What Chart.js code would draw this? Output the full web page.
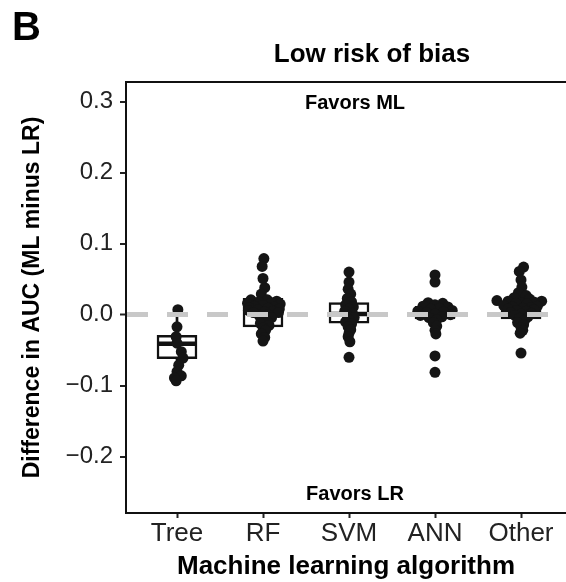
<!DOCTYPE html>
<html lang="en">
<head>
  <meta charset="UTF-8" />
  <title>Low risk of bias</title>
  <script src="https://cdn.jsdelivr.net/npm/chart.js"></script>
  <style>
    html, body {
      margin: 0;
      padding: 0;
      background: #fff;
    }

    #wrap {
      width: 566px;
      height: 582px;
      position: relative;
    }
  </style>
</head>
<body>
  <div id="wrap"><canvas id="grafico"></canvas></div>

  <script>
    const categories = ['Tree', 'RF', 'SVM', 'ANN', 'Other'];
    const yTicks = [-0.2, -0.1, 0, 0.1, 0.2, 0.3];
    const yTickLabels = ['\u22120.2', '\u22120.1', '0.0', '0.1', '0.2', '0.3'];

    // box stats per algorithm
    const boxQ1 = [-0.062, -0.017, -0.012, -0.006, -0.006];
    const boxMedian = [-0.041, 0.006, 0.001, 0.003, 0.006];
    const boxQ3 = [-0.029, 0.023, 0.017, 0.012, 0.019];
    const whiskerLow = [-0.093, -0.037, -0.038, -0.027, -0.026];
    const whiskerHigh = [0.007, 0.051, 0.046, 0.017, 0.049];

    // individual studies (AUC difference) + horizontal jitter in category units
    const treeVals = [0.007, -0.017, -0.031, -0.040, -0.052, -0.061, -0.071, -0.080, -0.086, -0.089, -0.093];
    const treeJitter = [0.01, 0.0, -0.01, 0.0, 0.05, 0.07, 0.02, 0.0, 0.05, -0.03, -0.01];

    const rfVals = [0.079, 0.068, 0.051, 0.038, 0.029, 0.021, 0.021, 0.019, 0.018, 0.017, 0.016, 0.015,
      0.013, 0.012, 0.011, 0.010, 0.009, 0.008, 0.007, 0.006, 0.005, 0.004, 0.003, 0.003,
      0.000, -0.002, -0.004, -0.006, -0.009, -0.012, -0.015, -0.018, -0.022, -0.027, -0.032, -0.037];
    const rfJitter = [0.01, -0.01, 0.0, 0.02, -0.02, -0.14, 0.05, 0.16, -0.05, 0.10, -0.18, 0.20,
      0.0, -0.10, 0.13, -0.16, 0.06, 0.19, -0.06, -0.17, 0.12, 0.02, -0.11, 0.18,
      0.06, -0.04, 0.10, 0.0, 0.05, -0.03, 0.07, 0.0, 0.03, -0.02, 0.02, 0.0];

    const svmVals = [0.060, 0.046, 0.036, 0.029, 0.023, 0.018, 0.014, 0.011, 0.008, 0.005, 0.002,
      -0.001, -0.004, -0.007, -0.010, -0.013, -0.017, -0.021, -0.026, -0.031, -0.038, -0.060];
    const svmJitter = [0.0, 0.0, -0.01, 0.02, -0.02, 0.03, -0.04, 0.05, 0.0, -0.05, 0.04,
      -0.02, 0.06, 0.0, -0.04, 0.03, -0.01, 0.02, 0.0, -0.01, 0.01, 0.0];

    const annVals = [0.056, 0.046, 0.017, 0.016, 0.014, 0.012, 0.011, 0.009, 0.008, 0.006, 0.005, 0.004,
      0.003, 0.001, 0.000, -0.001, -0.003, -0.004, -0.007, -0.011, -0.016, -0.022, -0.027, -0.058, -0.081];
    const annJitter = [0.0, 0.0, -0.08, 0.09, 0.0, -0.14, 0.15, 0.05, -0.05, 0.20, -0.20, 0.10,
      -0.10, 0.0, 0.18, -0.17, 0.08, -0.07, 0.02, -0.02, 0.02, 0.0, 0.01, 0.0, 0.0];

    const otherVals = [0.067, 0.061, 0.049, 0.039, 0.031, 0.027, 0.024, 0.022, 0.020, 0.019, 0.019, 0.018,
      0.017, 0.016, 0.015, 0.013, 0.012, 0.011, 0.010, 0.009, 0.008, 0.007, 0.006, 0.005,
      0.003, 0.002, 0.001, -0.001, -0.003, -0.005, -0.008, -0.011, -0.014, -0.018, -0.022, -0.026, -0.054];
    const otherJitter = [0.03, -0.02, 0.0, 0.01, -0.03, 0.06, -0.08, 0.10, -0.28, 0.24, -0.15, 0.15,
      0.0, -0.06, 0.07, -0.20, 0.19, -0.10, 0.11, 0.02, -0.15, 0.15, -0.05, 0.06,
      -0.12, 0.12, 0.0, -0.07, 0.08, -0.02, 0.04, -0.04, 0.03, 0.0, 0.02, -0.01, 0.0];

    const groups = [
      [treeVals, treeJitter],
      [rfVals, rfJitter],
      [svmVals, svmJitter],
      [annVals, annJitter],
      [otherVals, otherJitter]
    ];

    const FONT = "'Liberation Sans', Arial, Helvetica, sans-serif";
    Chart.defaults.font.family = FONT;

    const pontos = [];
    groups.forEach(([vals, jit], i) => {
      vals.forEach((v, k) => pontos.push({ x: i + 1 + jit[k], y: v }));
    });

    // texts + top frame line
    const decor = {
      id: 'decor',
      afterDraw(chart) {
        const { ctx, chartArea: a, scales: { x } } = chart;
        ctx.save();
        ctx.strokeStyle = '#111';
        ctx.lineWidth = 2;
        ctx.beginPath();
        ctx.moveTo(a.left - 1, a.top);
        ctx.lineTo(a.right, a.top);
        ctx.stroke();

        ctx.fillStyle = '#000';
        ctx.textBaseline = 'alphabetic';
        ctx.textAlign = 'left';
        ctx.font = 'bold 40px ' + FONT;
        ctx.fillText('B', 12, 40);

        ctx.textAlign = 'center';
        ctx.font = 'bold 26px ' + FONT;
        ctx.fillText('Low risk of bias', 372, 62);

        ctx.font = 'bold 20px ' + FONT;
        const cx = x.getPixelForValue(3) + 6;
        ctx.fillText('Favors ML', cx, a.top + 27);
        ctx.fillText('Favors LR', cx, a.bottom - 13);
        ctx.restore();
      }
    };

    new Chart(document.getElementById('grafico'), {
      type: 'scatter',
      data: {
        datasets: [
          {
            type: 'bar',
            label: 'whisker',
            data: categories.map((c, i) => ({ x: i + 1, y: [whiskerLow[i], whiskerHigh[i]] })),
            backgroundColor: '#111',
            borderWidth: 0,
            barThickness: 2,
            grouped: false,
            order: 4
          },
          {
            type: 'bar',
            label: 'box',
            data: categories.map((c, i) => ({ x: i + 1, y: [boxQ1[i], boxQ3[i]] })),
            backgroundColor: '#fff',
            borderColor: '#111',
            borderWidth: 2.5,
            borderSkipped: false,
            barThickness: 40,
            grouped: false,
            order: 3
          },
          {
            type: 'scatter',
            label: 'median',
            data: categories.map((c, i) => ({ x: i + 1, y: boxMedian[i] })),
            pointStyle: 'line',
            pointRadius: 19,
            borderColor: '#111',
            borderWidth: 4.5,
            order: 2
          },
          {
            type: 'scatter',
            label: 'studies',
            data: pontos,
            pointRadius: 5.5,
            backgroundColor: '#151515',
            borderWidth: 0,
            order: 1
          }
        ]
      },
      options: {
        responsive: true,
        maintainAspectRatio: false,
        animation: false,
        layout: {
          autoPadding: false,
          padding: { top: 82, left: 0, right: 0, bottom: 0 }
        },
        plugins: {
          legend: { display: false },
          tooltip: { enabled: false }
        },
        scales: {
          x: {
            type: 'linear',
            min: 0.407,
            max: 5.523,
            offset: false,
            afterBuildTicks: (s) => { s.ticks = categories.map((c, i) => ({ value: i + 1 })); },
            afterFit: (s) => {
              s.height = 69;
              s.paddingLeft = 0;
              s.paddingRight = 0;
            },
            ticks: {
              callback: (v) => categories[Math.round(v) - 1],
              color: '#222',
              font: { size: 26 },
              padding: 0,
              maxRotation: 0,
              autoSkip: false
            },
            grid: {
              drawOnChartArea: false,
              offset: false,
              tickLength: 5,
              tickWidth: 2,
              tickColor: '#222'
            },
            border: { color: '#111', width: 2 },
            title: {
              display: true,
              text: 'Machine learning algorithm',
              color: '#000',
              font: { size: 26, weight: 'bold' },
              padding: { top: 0, bottom: 0 }
            }
          },
          y: {
            type: 'linear',
            min: -0.279,
            max: 0.3275,
            afterBuildTicks: (s) => { s.ticks = yTicks.map((v) => ({ value: v })); },
            afterFit: (s) => {
              s.width = 126;
              s.paddingTop = 0;
              s.paddingBottom = 0;
            },
            ticks: {
              callback: (v) => yTickLabels[yTicks.indexOf(v)],
              color: '#222',
              font: { size: 24 },
              padding: 7
            },
            grid: {
              z: 1,
              color: '#c8c8c8',
              lineWidth: (c) => (c.tick && c.tick.value === 0 ? 5 : 0),
              tickLength: 6,
              tickWidth: 2,
              tickColor: '#222'
            },
            border: { color: '#111', width: 2, dash: [21, 19], z: 1 },
            title: {
              display: true,
              text: 'Difference in AUC (ML minus LR)',
              color: '#000',
              font: { size: 23, weight: 'bold' },
              padding: { top: 19, bottom: 0 }
            }
          }
        }
      },
      plugins: [decor]
    });
  </script>
</body>
</html>
